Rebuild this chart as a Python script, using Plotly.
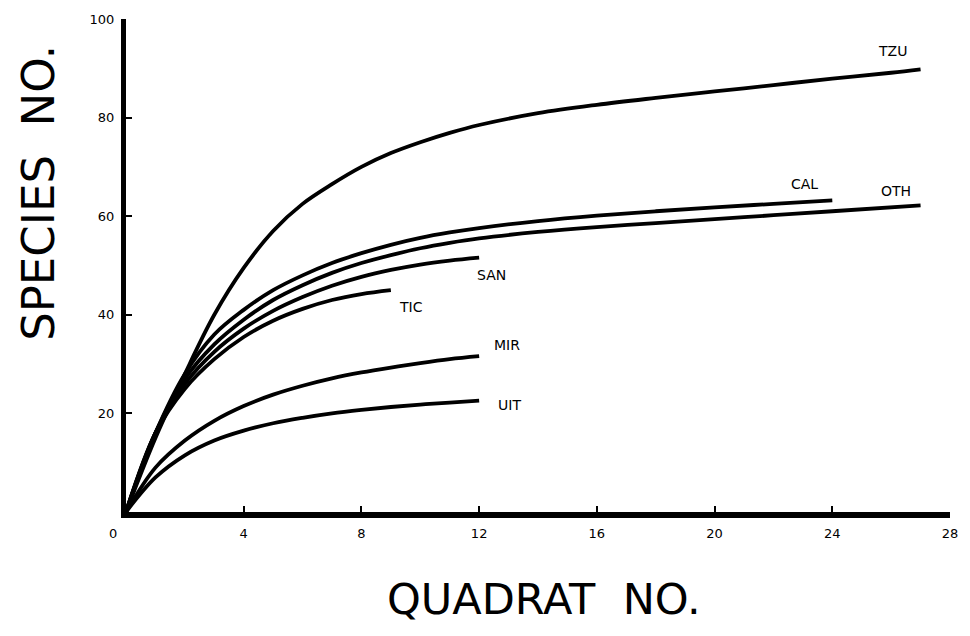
import plotly.graph_objects as go

# Species–area (accumulation) curves: cumulative species count vs. quadrats sampled
quadrats_tzu = [0, 1, 2, 3, 4, 5, 6, 7, 8, 9, 10, 11, 12, 14, 16, 18, 20, 22, 24, 26, 27]
species_tzu = [0, 15, 28, 40, 49.5, 57, 62.5, 66.5, 70, 72.8, 75, 76.9, 78.5, 80.9, 82.6, 84, 85.3, 86.6, 87.9, 89.1, 89.8]

quadrats_cal = [0, 1, 2, 3, 4, 5, 6, 7, 8, 9, 10, 11, 12, 14, 16, 18, 20, 22, 24]
species_cal = [0, 16, 28, 36, 41, 45, 48, 50.5, 52.5, 54.2, 55.6, 56.7, 57.6, 59, 60.1, 61, 61.8, 62.5, 63.2]

quadrats_oth = [0, 1, 2, 3, 4, 5, 6, 7, 8, 9, 10, 11, 12, 14, 16, 18, 20, 22, 24, 27]
species_oth = [0, 16, 27, 34, 39, 43, 46, 48.5, 50.5, 52.1, 53.5, 54.6, 55.5, 56.8, 57.8, 58.6, 59.4, 60.2, 61, 62.2]

quadrats_san = [0, 1, 2, 3, 4, 5, 6, 7, 8, 9, 10, 11, 12]
species_san = [0, 16, 26, 32.5, 37.2, 40.8, 43.6, 45.9, 47.7, 49.1, 50.2, 51, 51.6]

quadrats_tic = [0, 1, 2, 3, 4, 5, 6, 7, 8, 9]
species_tic = [0, 16, 25, 31, 35.5, 38.8, 41.2, 43, 44.2, 45]

quadrats_mir = [0, 1, 2, 3, 4, 5, 6, 7, 8, 9, 10, 11, 12]
species_mir = [0, 9, 14.5, 18.5, 21.5, 23.8, 25.6, 27.1, 28.3, 29.3, 30.2, 31, 31.6]

quadrats_uit = [0, 1, 2, 3, 4, 5, 6, 7, 8, 9, 10, 11, 12]
species_uit = [0, 7, 11.5, 14.5, 16.5, 18, 19.1, 20, 20.7, 21.3, 21.8, 22.2, 22.6]

site_names = ["TZU", "CAL", "OTH", "SAN", "TIC", "MIR", "UIT"]
x_ticks = [4, 8, 12, 16, 20, 24, 28]
y_ticks = [20, 40, 60, 80, 100]

curves = [
    (quadrats_tzu, species_tzu), (quadrats_cal, species_cal), (quadrats_oth, species_oth),
    (quadrats_san, species_san), (quadrats_tic, species_tic), (quadrats_mir, species_mir),
    (quadrats_uit, species_uit),
]
# pixel offsets of each site label from the end of its curve
label_offsets = [(-28, 18), (-28, 16), (-25, 14), (12, -17), (20, -17), (28, 11), (30, -4)]

FONT = "DejaVu Sans"
W, H = 970, 636
L, R, T, B = 126, 17, 12, 124
pw, ph = W - L - R, H - T - B

fig = go.Figure()
annotations = []
for name, (xs, ys), (dx, dy) in zip(site_names, curves, label_offsets):
    fig.add_trace(go.Scatter(
        x=xs, y=ys, mode="lines", name=name,
        line=dict(color="black", width=3.8, shape="spline", smoothing=1.0),
        hoverinfo="x+y+name",
    ))
    annotations.append(dict(
        x=xs[-1], y=ys[-1], xref="x", yref="y", text=name, showarrow=False,
        xshift=dx, yshift=dy, font=dict(family=FONT, size=14, color="black"),
    ))

# origin label sits left of the corner
annotations.append(dict(
    x=0, y=0, xref="x", yref="y", text="0", showarrow=False,
    xshift=-13, yshift=-21, font=dict(family=FONT, size=13, color="black"),
))
# axis titles, positioned in pixels and converted to paper coordinates
annotations.append(dict(
    x=(546 - L) / pw, y=(H - B - 600) / ph, xref="paper", yref="paper",
    xanchor="center", yanchor="middle",
    text="QUADRAT&nbsp;&nbsp;NO.", showarrow=False,
    font=dict(family=FONT, size=43, color="black"),
))
annotations.append(dict(
    x=(38 - L) / pw, y=(H - B - 188) / ph, xref="paper", yref="paper",
    xanchor="center", yanchor="middle",
    text="SPECIES&nbsp;&nbsp;NO.", showarrow=False, textangle=-90,
    font=dict(family=FONT, size=45, color="black"),
))

fig.update_layout(
    width=W, height=H,
    margin=dict(l=L, r=R, t=T, b=B, pad=0),
    paper_bgcolor="white", plot_bgcolor="white",
    showlegend=False,
    annotations=annotations,
    font=dict(family=FONT, color="black"),
)
fig.update_xaxes(
    range=[0, 28], tickvals=x_ticks, ticktext=[str(v) for v in x_ticks],
    showgrid=False, zeroline=False,
    showline=True, linecolor="black", linewidth=6,
    ticks="inside", ticklen=6, tickwidth=2, tickcolor="black",
    ticklabelstandoff=4,
    tickfont=dict(family=FONT, size=13, color="black"),
)
fig.update_yaxes(
    range=[0, 100], tickvals=y_ticks, ticktext=[str(v) for v in y_ticks],
    showgrid=False, zeroline=False,
    showline=True, linecolor="black", linewidth=5,
    ticks="inside", ticklen=6, tickwidth=2, tickcolor="black",
    ticklabelstandoff=4,
    tickfont=dict(family=FONT, size=13, color="black"),
)

fig.write_html("out.html")
